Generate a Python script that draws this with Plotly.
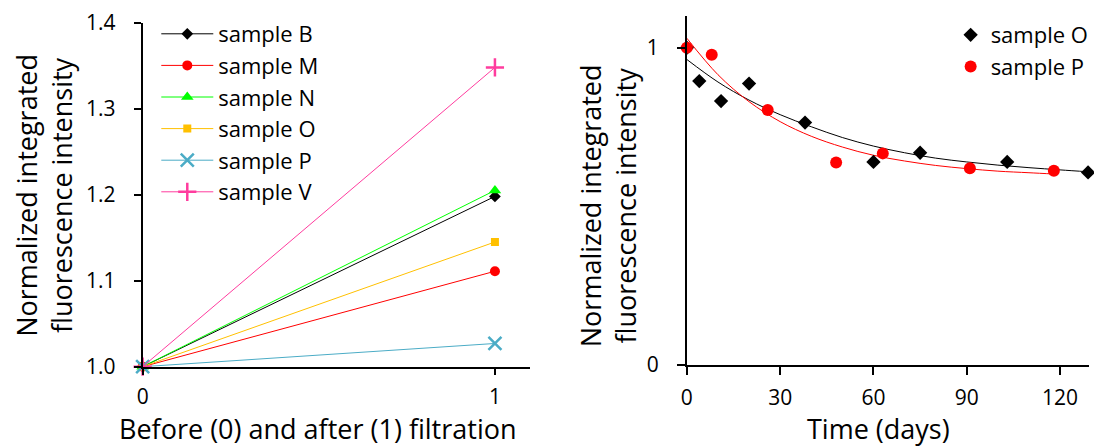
import plotly.graph_objects as go

# ---- Left panel: intensity before (0) and after (1) filtration ----
filtration_step = [0, 1]
sample_names = ["sample B", "sample M", "sample N", "sample O", "sample P", "sample V"]
before_filtration = [1.0, 1.0, 1.0, 1.0, 1.0, 1.0]
after_filtration = [1.198, 1.111, 1.205, 1.145, 1.027, 1.348]
sample_colors = ["#000000", "#FF0000", "#00FF00", "#FFC000", "#4BACC6", "#FF3C9E"]
sample_symbols = ["diamond", "circle", "triangle-up", "square", "x-thin", "cross-thin"]
sample_sizes = [9, 10, 11, 8, 13, 13]
left_yticks = [1.0, 1.1, 1.2, 1.3, 1.4]

# ---- Right panel: intensity over storage time ----
days_O = [0, 4, 11, 20, 38, 60, 75, 103, 129]
intensity_O = [1.0, 0.895, 0.832, 0.887, 0.764, 0.640, 0.669, 0.640, 0.607]
days_P = [0, 8, 26, 48, 63, 91, 118]
intensity_P = [1.0, 0.978, 0.804, 0.638, 0.667, 0.620, 0.612]

# trend curves through each series
trend_days_O = [0, 10, 20, 30, 40, 50, 60, 70, 80, 90, 100, 110, 120, 129]
trend_O = [0.963, 0.892, 0.835, 0.789, 0.751, 0.717, 0.690, 0.669, 0.652, 0.640,
           0.630, 0.622, 0.615, 0.609]
trend_days_P = [0, 10, 20, 30, 40, 50, 60, 70, 80, 90, 100, 110, 118]
trend_P = [1.030, 0.915, 0.830, 0.767, 0.721, 0.687, 0.661, 0.643, 0.629, 0.619,
           0.611, 0.606, 0.602]
right_xticks = [0, 30, 60, 90, 120]
right_yticks = [0, 1]

FONT = "Open Sans"
W, H = 1094, 446


def px_x(p):
    return p / W


def px_y(p):
    return (H - p) / H


fig = go.Figure()

for name, y0, y1, col, sym, sz in zip(sample_names, before_filtration, after_filtration,
                                      sample_colors, sample_symbols, sample_sizes):
    thin = sym.endswith("-thin")
    fig.add_trace(go.Scatter(
        x=filtration_step, y=[y0, y1], name=name, mode="lines+markers",
        line=dict(color=col, width=1),
        marker=dict(symbol=sym, size=sz, color=col,
                    line=dict(color=col, width=2.5 if thin else 0)),
        cliponaxis=False, xaxis="x", yaxis="y", legend="legend",
    ))

fig.add_trace(go.Scatter(
    x=trend_days_O, y=trend_O, mode="lines", line=dict(color="black", width=1, shape="spline"),
    showlegend=False, xaxis="x2", yaxis="y2", hoverinfo="skip"))
fig.add_trace(go.Scatter(
    x=trend_days_P, y=trend_P, mode="lines", line=dict(color="#FF0000", width=1, shape="spline"),
    showlegend=False, xaxis="x2", yaxis="y2", hoverinfo="skip"))
fig.add_trace(go.Scatter(
    x=days_O, y=intensity_O, name="sample O", mode="markers",
    marker=dict(symbol="diamond", size=11, color="black"),
    cliponaxis=False, xaxis="x2", yaxis="y2", legend="legend2"))
fig.add_trace(go.Scatter(
    x=days_P, y=intensity_P, name="sample P", mode="markers",
    marker=dict(symbol="circle", size=12, color="#FF0000"),
    cliponaxis=False, xaxis="x2", yaxis="y2", legend="legend2"))

axis_common = dict(showline=True, linecolor="black", linewidth=2, showgrid=False,
                   zeroline=False, ticks="outside", tickcolor="black", tickwidth=2,
                   automargin=False,
                   tickfont=dict(family=FONT, size=21, color="black"))

fig.update_layout(
    template="none",
    width=W, height=H,
    margin=dict(l=0, r=0, t=0, b=0, pad=0),
    paper_bgcolor="white", plot_bgcolor="white",
    font=dict(family=FONT, color="black"),
    xaxis=dict(domain=[px_x(143.3), px_x(532.6)], range=[0, 1.1], anchor="y",
               tickvals=filtration_step, ticklen=6, ticklabelstandoff=4, **axis_common),
    yaxis=dict(domain=[px_y(366.7), px_y(22.7)], range=[1.0, 1.4], anchor="x",
               tickvals=left_yticks, tickformat=".1f", ticklen=7, ticklabelstandoff=14,
               **axis_common),
    xaxis2=dict(domain=[px_x(690), 1.0], range=[0, 129.3], anchor="y2",
                tickvals=right_xticks, ticklen=8, ticklabelstandoff=5, **axis_common),
    yaxis2=dict(domain=[px_y(365), px_y(16)], range=[0, 1.1], anchor="x2",
                tickvals=right_yticks, ticklen=8, ticklabelstandoff=14, **axis_common),
    legend=dict(x=px_x(157), y=px_y(13), xanchor="left", yanchor="top",
                bgcolor="rgba(0,0,0,0)", itemwidth=52,
                font=dict(family=FONT, size=22, color="black")),
    legend2=dict(x=px_x(955), y=px_y(14), xanchor="left", yanchor="top",
                 bgcolor="rgba(0,0,0,0)",
                 font=dict(family=FONT, size=22, color="black")),
    showlegend=True,
)

title_font = dict(family=FONT, size=27, color="black")
titles = [
    ("Normalized integrated<br>fluorescence intensity", -90, 44, 195),
    ("Before (0) and after (1) filtration", 0, 319, 428.5),
    ("Normalized integrated<br>fluorescence intensity", -90, 611, 206),
    ("Time (days)", 0, 883, 428.5),
]
for text, angle, cx, cy in titles:
    fig.add_annotation(text=text, textangle=angle,
                       x=px_x(cx), y=px_y(cy), xref="paper", yref="paper",
                       xanchor="center", yanchor="middle", borderpad=0,
                       showarrow=False, font=title_font)

fig.write_html("out.html")
